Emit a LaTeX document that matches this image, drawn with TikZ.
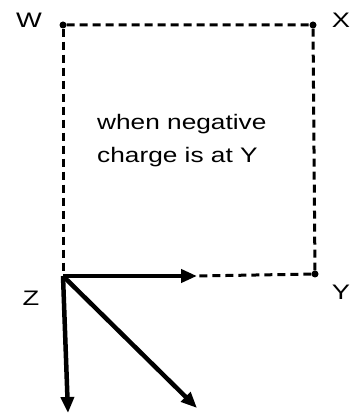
\documentclass[tikz,border=0pt]{standalone}
\usepackage{fontspec}
\setmainfont{Liberation Sans}
\usetikzlibrary{arrows.meta}
\begin{document}
\begin{tikzpicture}[x=1pt,y=1pt,
  dashline/.style={line width=3pt,dash pattern=on 8pt off 5pt},
  vec/.style={line width=4.5pt,-{Triangle[length=16pt,width=13pt]}},
  dotpt/.style={circle,fill=black,inner sep=0pt,minimum size=7pt},
  lbl/.style={font=\fontsize{21}{24}\selectfont,inner sep=0pt}]
\useasboundingbox (0,0) rectangle (350,416);
\node[dotpt] (W) at (63,391) {};
\node[dotpt] (X) at (313,391) {};
\node[dotpt] (Y) at (315,142) {};
\coordinate (Z) at (63,140);
\coordinate (H) at (197,140);
\coordinate (V) at (68,3);
\coordinate (D) at (197,8);
\draw[dashline] (W) -- (X) -- (Y) -- (H);
\draw[dashline] (W) -- (Z);
\draw[vec] (Z) -- (H);
\draw[vec] (Z) -- (V);
\draw[vec] (Z) -- (D);
\node[lbl] (lW) at (29,396) {\scalebox{1.3}[1]{W}};
\node[lbl] (lX) at (341,396) {\scalebox{1.3}[1]{X}};
\node[lbl] (lZ) at (31,118) {\scalebox{1.3}[1]{Z}};
\node[lbl] (lY) at (341,124) {\scalebox{1.3}[1]{Y}};
\node[lbl,anchor=base west] (t1) at (97,286) {\scalebox{1.25}[1]{when negative}};
\node[lbl,anchor=base west] (t2) at (97,253) {\scalebox{1.25}[1]{charge is at Y}};
\end{tikzpicture}
\end{document}
